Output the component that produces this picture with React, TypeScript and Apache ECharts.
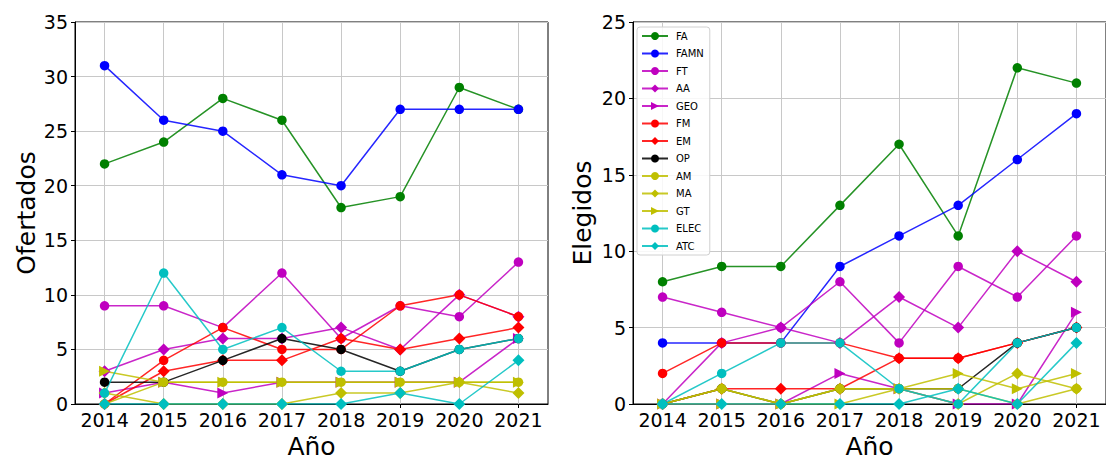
import React, { useEffect, useRef } from "react";
import * as echarts from "echarts";

const years = [2014, 2015, 2016, 2017, 2018, 2019, 2020, 2021];
const seriesNames = ["FA", "FAMN", "FT", "AA", "GEO", "FM", "EM", "OP", "AM", "MA", "GT", "ELEC", "ATC"];

// Ofertados (left)
const ofFA = [22, 24, 28, 26, 18, 19, 29, 27];
const ofFAMN = [31, 26, 25, 21, 20, 27, 27, 27];
const ofFT = [9, 9, 7, 12, 6, 9, 8, 13];
const ofAA = [3, 5, 6, 6, 7, 5, 10, 8];
const ofGEO = [1, 2, 1, 2, 2, 2, 2, 6];
const ofFM = [0, 4, 7, 5, 5, 9, 10, 8];
const ofEM = [0, 3, 4, 4, 6, 5, 6, 7];
const ofOP = [2, 2, 4, 6, 5, 3, 5, 6];
const ofAM = [0, 2, 2, 2, 2, 2, 2, 2];
const ofMA = [1, 0, 0, 0, 1, 1, 2, 1];
const ofGT = [3, 2, 2, 2, 2, 2, 2, 2];
const ofELEC = [1, 12, 5, 7, 3, 3, 5, 6];
const ofATC = [0, 0, 0, 0, 0, 1, 0, 4];

// Elegidos (right)
const elFA = [8, 9, 9, 13, 17, 11, 22, 21];
const elFAMN = [4, 4, 4, 9, 11, 13, 16, 19];
const elFT = [7, 6, 5, 8, 4, 9, 7, 11];
const elAA = [0, 4, 5, 4, 7, 5, 10, 8];
const elGEO = [0, 0, 0, 2, 1, 0, 0, 6];
const elFM = [2, 4, 4, 4, 3, 3, 4, 5];
const elEM = [0, 1, 1, 1, 3, 3, 4, 5];
const elOP = [0, 1, 0, 1, 1, 1, 4, 5];
const elAM = [0, 1, 0, 1, 1, 1, 0, 1];
const elMA = [0, 1, 0, 1, 1, 0, 2, 1];
const elGT = [0, 0, 0, 0, 1, 2, 1, 2];
const elELEC = [0, 2, 4, 4, 1, 0, 4, 5];
const elATC = [0, 0, 0, 0, 0, 1, 0, 4];

const ofertados = [ofFA, ofFAMN, ofFT, ofAA, ofGEO, ofFM, ofEM, ofOP, ofAM, ofMA, ofGT, ofELEC, ofATC];
const elegidos = [elFA, elFAMN, elFT, elAA, elGEO, elFM, elEM, elOP, elAM, elMA, elGT, elELEC, elATC];

const colors = ["#008000", "#0000ff", "#bf00bf", "#bf00bf", "#bf00bf", "#ff0000", "#ff0000", "#000000", "#bfbf00", "#bfbf00", "#bfbf00", "#00bfbf", "#00bfbf"];
const markers = ["circle", "circle", "circle", "diamond", "triangle", "circle", "diamond", "circle", "circle", "diamond", "triangle", "circle", "diamond"];

const FONT = "DejaVu Sans";

function makeSeries(data: number[][], idx: number) {
  return data.map((vals, i) => {
    const m = markers[i];
    return {
      name: seriesNames[i],
      type: "line",
      xAxisIndex: idx,
      yAxisIndex: idx,
      data: vals.map((v, j) => [years[j], v]),
      symbol: m,
      symbolSize: m === "circle" ? 9.5 : m === "diamond" ? 12 : 11,
      symbolRotate: m === "triangle" ? -90 : 0,
      showAllSymbol: true,
      itemStyle: { color: colors[i], opacity: 1 },
      lineStyle: { color: colors[i], width: 1.5, opacity: 0.85 },
      emphasis: { disabled: true },
      z: 2,
    };
  });
}

function xAxisFor(idx: number) {
  return {
    gridIndex: idx,
    type: "value",
    min: 2013.5,
    max: 2021.5,
    axisTick: { show: true, customValues: years, length: 4, lineStyle: { color: "#000" } },
    axisLabel: {
      customValues: years,
      formatter: (v: number) => String(v),
      fontSize: 19,
      color: "#000",
      margin: 6,
      fontFamily: FONT,
    },
    splitLine: { show: true, lineStyle: { color: "#c8c8c8", width: 1 } },
    axisLine: { show: true, lineStyle: { color: "#000" } },
    name: "Año",
    nameLocation: "middle",
    nameGap: 30,
    nameTextStyle: { fontSize: 25, color: "#000", fontFamily: FONT },
  };
}

function yAxisFor(idx: number, max: number, name: string, gap: number) {
  return {
    gridIndex: idx,
    type: "value",
    min: 0,
    max,
    interval: 5,
    axisTick: { show: true, length: 4, lineStyle: { color: "#000" } },
    axisLabel: { fontSize: 19, color: "#000", margin: 7, fontFamily: FONT },
    splitLine: { show: true, lineStyle: { color: "#c8c8c8", width: 1 } },
    axisLine: { show: true, lineStyle: { color: "#000" } },
    name,
    nameLocation: "middle",
    nameGap: gap,
    nameTextStyle: { fontSize: 25, color: "#000", fontFamily: FONT },
  };
}

export default function App() {
  const ref = useRef<HTMLDivElement>(null);
  useEffect(() => {
    if (!ref.current) return;
    const chart = echarts.init(ref.current, undefined, { renderer: "svg" });
    chart.setOption({
      animation: false,
      backgroundColor: "#ffffff",
      textStyle: { fontFamily: FONT },
      grid: [
        { left: 75, top: 22, width: 473, height: 388, show: true, borderColor: "#000", borderWidth: 1, backgroundColor: "transparent" },
        { left: 633, top: 22, width: 474, height: 388, show: true, borderColor: "#000", borderWidth: 1, backgroundColor: "transparent" },
      ],
      xAxis: [xAxisFor(0), xAxisFor(1)],
      yAxis: [yAxisFor(0, 35, "Ofertados", 36), yAxisFor(1, 25, "Elegidos", 38)],
      legend: {
        data: seriesNames,
        orient: "vertical",
        left: 637,
        top: 27,
        padding: [4, 6, 4, 4],
        itemGap: 7.5,
        itemWidth: 26,
        itemHeight: 10,
        backgroundColor: "rgba(255,255,255,0.85)",
        borderColor: "#d0d0d0",
        borderWidth: 1,
        borderRadius: 3,
        selectedMode: false,
        textStyle: { fontSize: 10, color: "#000", fontFamily: FONT, padding: [0, 0, 0, 3] },
      },
      series: [...makeSeries(ofertados, 0), ...makeSeries(elegidos, 1)],
    });
    return () => chart.dispose();
  }, []);
  return <div ref={ref} style={{ position: "fixed", left: 0, top: 0, width: 1106, height: 464 }} />;
}
